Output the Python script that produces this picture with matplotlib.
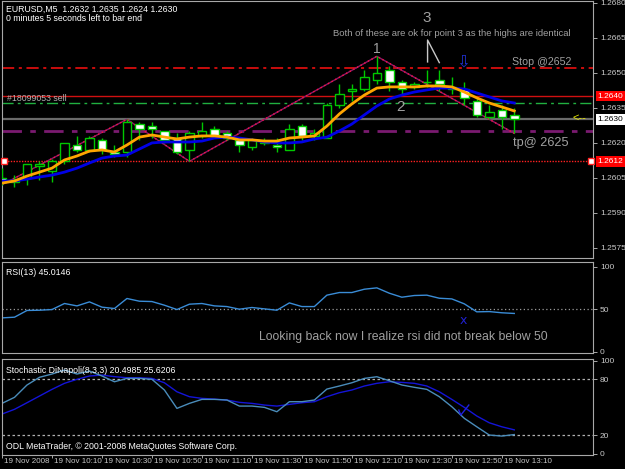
import numpy as np
import matplotlib
matplotlib.use("Agg")
import matplotlib.pyplot as plt
import matplotlib.transforms as mtransforms

plt.rcParams['font.family'] = ['Liberation Sans', 'DejaVu Sans']
NARROW = ['Liberation Sans Narrow', 'Liberation Sans', 'DejaVu Sans']

# ---- EURUSD M5 bars ----
opens = [1.2605, 1.2603, 1.2605, 1.2610, 1.2608, 1.2612, 1.2619, 1.2617, 1.2621, 1.2616,
         1.2616, 1.2628, 1.2627, 1.2625, 1.2622, 1.2617, 1.2623, 1.2626, 1.2624, 1.2621,
         1.2618, 1.2620, 1.2619, 1.2617, 1.2627, 1.2623, 1.2622, 1.2636, 1.2642, 1.2643,
         1.2647, 1.2651, 1.2646, 1.2644, 1.2646, 1.2647, 1.2644, 1.2643, 1.2638, 1.2631,
         1.2634, 1.2632]
highs = [1.2609, 1.2606, 1.2611, 1.2612, 1.2613, 1.2620, 1.2623, 1.2623, 1.2622, 1.2619,
         1.2630, 1.2629, 1.2629, 1.2625, 1.2624, 1.2625, 1.2629, 1.2627, 1.2625, 1.2622,
         1.2622, 1.2622, 1.2622, 1.2628, 1.2628, 1.2626, 1.2637, 1.2645, 1.2645, 1.2651,
         1.2657, 1.2653, 1.2647, 1.2646, 1.2651, 1.2651, 1.2648, 1.2646, 1.2639, 1.2636,
         1.2636, 1.2635]
lows = [1.2602, 1.2601, 1.2602, 1.2604, 1.2603, 1.2611, 1.2616, 1.2616, 1.2615, 1.2614,
        1.2614, 1.2621, 1.2622, 1.2620, 1.2615, 1.2612, 1.2622, 1.2622, 1.2621, 1.2616,
        1.2617, 1.2619, 1.2616, 1.2617, 1.2621, 1.2621, 1.2622, 1.2635, 1.2638, 1.2642,
        1.2645, 1.2642, 1.2641, 1.2643, 1.2644, 1.2642, 1.2641, 1.2636, 1.2631, 1.2630,
        1.2626, 1.2624]
closes = [1.2603, 1.2604, 1.2611, 1.2611, 1.2612, 1.2620, 1.2617, 1.2622, 1.2617, 1.2615,
          1.2629, 1.2626, 1.2626, 1.2621, 1.2616, 1.2624, 1.2625, 1.2623, 1.2622, 1.2619,
          1.2621, 1.2620, 1.2618, 1.2626, 1.2623, 1.2624, 1.2636, 1.2641, 1.2643, 1.2648,
          1.2650, 1.2646, 1.2643, 1.2645, 1.2646, 1.2645, 1.2643, 1.2639, 1.2632, 1.2633,
          1.2631, 1.2630]

# moving averages as drawn (orange = fast, blue = slow)
ma_fast = [1.26027, 1.26036, 1.26057, 1.26074, 1.26091, 1.26126, 1.26143, 1.26164, 1.26169, 1.26160,
           1.26190, 1.26224, 1.26233, 1.26224, 1.26216, 1.26224, 1.26229, 1.26229, 1.26224, 1.26212,
           1.26212, 1.26207, 1.26207, 1.26220, 1.26224, 1.26229, 1.26271, 1.26323, 1.26366, 1.26404,
           1.26434, 1.26439, 1.26439, 1.26439, 1.26443, 1.26443, 1.26439, 1.26417, 1.26392, 1.26370,
           1.26353, 1.26336]
ma_slow = [1.26036, 1.26036, 1.26044, 1.26053, 1.26061, 1.26074, 1.26091, 1.26113, 1.26134, 1.26143,
           1.26147, 1.26173, 1.26199, 1.26203, 1.26203, 1.26203, 1.26207, 1.26220, 1.26224, 1.26220,
           1.26212, 1.26203, 1.26199, 1.26199, 1.26203, 1.26216, 1.26224, 1.26250, 1.26280, 1.26319,
           1.26357, 1.26387, 1.26404, 1.26417, 1.26426, 1.26434, 1.26434, 1.26430, 1.26413, 1.26396,
           1.26379, 1.26370]

# zigzag swing points (bar index, price)
zz_bar = [0, 10, 15, 30, 41]
zz_price = [1.2602, 1.2630, 1.2612, 1.2657, 1.2624]

# RSI(13)
rsi = [39.8, 40.6, 48.5, 48.8, 49.6, 56.7, 53.9, 58.6, 52.4, 50.8,
       62.6, 59.4, 59.0, 54.7, 49.6, 55.9, 56.7, 53.9, 53.1, 50.0,
       52.0, 50.4, 48.8, 57.4, 53.1, 53.1, 66.5, 69.6, 69.6, 73.5,
       75.1, 68.8, 64.1, 66.1, 66.5, 62.9, 62.1, 56.3, 46.9, 47.2,
       45.8, 45.0]

# Stochastic DiNapoli(8,3,3)
stoch_main = [54.1, 60.6, 73.9, 82.2, 85.7, 90.0, 85.7, 88.9, 83.6, 77.4,
              81.0, 81.0, 80.0, 68.5, 48.7, 54.1, 58.4, 58.4, 57.7, 51.2,
              51.2, 49.8, 45.1, 55.9, 55.9, 57.7, 69.5, 72.8, 76.3, 81.0,
              82.8, 78.5, 73.9, 71.4, 69.2, 61.3, 50.5, 38.0, 28.9, 20.0,
              18.9, 20.5]
stoch_signal = [42.6, 47.7, 54.8, 62.0, 69.2, 75.7, 80.0, 83.6, 84.6, 82.9,
                81.7, 81.7, 81.0, 76.3, 66.6, 61.3, 59.5, 58.7, 57.7, 55.2,
                54.1, 52.3, 51.2, 53.0, 54.8, 55.9, 61.3, 65.6, 68.5, 72.8,
                75.7, 77.4, 76.7, 75.7, 72.8, 66.6, 58.4, 49.8, 40.5, 33.2,
                28.9, 25.6]

# time axis
tick_bars = [0, 4, 8, 12, 16, 20, 24, 28, 32, 36, 40]
tick_labels = ['19 Nov 2008', '19 Nov 10:10', '19 Nov 10:30', '19 Nov 10:50', '19 Nov 11:10',
               '19 Nov 11:30', '19 Nov 11:50', '19 Nov 12:10', '19 Nov 12:30', '19 Nov 12:50',
               '19 Nov 13:10']
price_ticks = [1.2575, 1.2590, 1.2605, 1.2620, 1.2635, 1.2650, 1.2665, 1.2680]

# levels on the chart
stop_level = 1.2652
order_line = 1.2640
open_level = 1.2637
bid_level = 1.2630
tp_level = 1.2625
alert_level = 1.2612

# hand drawn marks
arrow3_x = [34.06, 34.06, 35.0]
arrow3_y = [1.26546, 1.26640, 1.26543]
tick_mark_x = [36.56, 36.72, 37.36]
tick_mark_y = [46.9, 41.5, 52.3]

BG = 'black'
FRAME = '#a8a8a8'
TXT = '#c8c8c8'
GREEN = '#00c800'
NOTE = '#a0a0a0'

fig = plt.figure(figsize=(6.25, 4.69), dpi=100, facecolor=BG)
W, H = 625.0, 469.0

# panel rectangle from pixel corners
def rect(x0, y0, x1, y1):
    return [x0 / W, 1 - y1 / H, (x1 - x0) / W, (y1 - y0) / H]

ax = fig.add_axes(rect(2, 1, 593, 258))
ax_rsi = fig.add_axes(rect(2, 262, 593, 353), sharex=ax)
ax_st = fig.add_axes(rect(2, 359, 593, 455), sharex=ax)

for a in (ax, ax_rsi, ax_st):
    a.set_facecolor(BG)
    for s in a.spines.values():
        s.set_color(FRAME)
        s.set_linewidth(0.8)
    a.yaxis.tick_right()
    a.tick_params(axis='y', colors=FRAME, labelcolor=TXT, labelsize=6, length=3, width=0.7, pad=2)
    a.tick_params(axis='x', bottom=False, labelbottom=False)

bars = np.arange(len(opens))
ax.set_xlim(0, 47.3)

# ---- main price panel ----
ax.set_ylim(1.25706, 1.26807)
ax.set_yticks(price_ticks)
ax.set_yticklabels(['%.4f' % p for p in price_ticks], family=NARROW)

ax.axhline(stop_level, color='#ff1010', lw=1.1, ls=(0, (8, 3, 2, 3)))
ax.axhline(order_line, color='#d01010', lw=1.0)
ax.axhline(open_level, color='#20b040', lw=1.0, ls=(0, (8, 3, 2, 3)))
ax.axhline(bid_level, color='#6a6a6a', lw=1.6)
ax.axhline(tp_level, color='#7a1a70', lw=2.0, ls=(0, (7, 3, 2, 3)))
ax.axhline(alert_level, color='#ff2020', lw=1.0, ls=(0, (1, 1)))

# zigzag
ax.plot(zz_bar, zz_price, color='#8a1a6a', lw=1.0, zorder=2)
ax.plot(zz_bar, zz_price, color='#ff1040', lw=1.0, ls=(0, (1, 2)), zorder=2)

# candles (white body = bear, black body = bull)
for i in bars:
    o, h, l, c = opens[i], highs[i], lows[i], closes[i]
    ax.vlines(i, l, h, color=GREEN, lw=1.0, zorder=3)
    bear = c < o
    body = max(abs(c - o), 0.00002)
    ax.bar(i, body, bottom=min(o, c), width=0.68,
           facecolor='white' if bear else 'black', edgecolor=GREEN, lw=1.0, zorder=4)

ax.plot(bars, ma_slow, color='#0000e6', lw=2.0, zorder=5)
ax.plot(bars, ma_fast, color='#ffa500', lw=2.0, zorder=6)

# right-side price boxes
tr = mtransforms.blended_transform_factory(ax.transAxes, ax.transData)
for lvl, txt, fc, tc in [(order_line, '1.2640', '#ff0000', 'white'),
                         (bid_level, '1.2630', 'white', 'black'),
                         (alert_level, '1.2612', '#ff0000', 'white')]:
    ax.text(1.008, lvl, txt, transform=tr, color=tc, fontsize=6, va='center', family=NARROW,
            bbox=dict(facecolor=fc, edgecolor='none', pad=1.4), clip_on=False)
ax.plot([0.004, 0.997], [alert_level, alert_level], transform=tr, ls='none', marker='s', ms=4,
        mfc='white', mec='#ff2020', mew=1.0, clip_on=False, zorder=7)
ax.text(0.966, bid_level + 0.00005, '<--', transform=tr, color='#e8e800', fontsize=8,
        va='center', clip_on=False)

# header
ax.text(0.006, 0.985, 'EURUSD,M5  1.2632 1.2635 1.2624 1.2630', transform=ax.transAxes,
        color='white', fontsize=6.3, va='top', family=NARROW)
ax.text(0.006, 0.95, '0 minutes 5 seconds left to bar end', transform=ax.transAxes,
        color='white', fontsize=6.3, va='top', family=NARROW)
ax.text(0.4, 1.26389, '#18099053 sell', color='#b0b0b0', fontsize=6.3, va='center', family=NARROW)

# annotations
ax.text(34.0, 1.26734, '3', color=NOTE, fontsize=11, ha='center', va='center')
ax.text(36.0, 1.26668, 'Both of these are ok for point 3 as the highs are identical',
        color=NOTE, fontsize=6.8, ha='center', va='center')
ax.plot(arrow3_x, arrow3_y, color='#c8c8c8', lw=1.0)
ax.text(30.0, 1.26602, '1', color=NOTE, fontsize=10, ha='center', va='center')
ax.text(31.9, 1.26353, '2', color=NOTE, fontsize=11, ha='center', va='center')
ax.text(40.8, 1.26544, 'Stop @2652', color=NOTE, fontsize=7.7, va='center')
ax.text(40.9, 1.26197, 'tp@ 2625', color=NOTE, fontsize=9.2, va='center')
ax.text(36.9, 1.26546, '\u21e9', color='#2030d0', fontsize=12, ha='center', va='center',
        family='DejaVu Sans')

# ---- RSI panel ----
ax_rsi.set_ylim(-1.5, 105.5)
ax_rsi.set_yticks([0, 50, 100])
ax_rsi.set_yticklabels(['0', '50', '100'], family=NARROW)
ax_rsi.axhline(50, color='#9a9a9a', lw=0.9, ls=(0, (1, 2)))
ax_rsi.plot(bars, rsi, color='#3a8cd6', lw=1.0)
ax_rsi.text(0.006, 0.93, 'RSI(13) 45.0146', transform=ax_rsi.transAxes, color='white',
            fontsize=6.3, va='top', family=NARROW)
ax_rsi.text(20.56, 16.8, 'Looking back now I realize rsi did not break below 50',
            color=NOTE, fontsize=8.8, va='center')
ax_rsi.text(36.95, 36.6, 'x', color='#2020d0', fontsize=9, ha='center', va='center',
            family='DejaVu Sans')

# ---- Stochastic panel ----
ax_st.set_ylim(-1.5, 101.9)
ax_st.set_yticks([0, 20, 80, 100])
ax_st.set_yticklabels(['0', '20', '80', '100'], family=NARROW)
ax_st.axhline(80, color='#b0b0b0', lw=0.9, ls=(0, (2, 2)))
ax_st.axhline(20, color='#b0b0b0', lw=0.9, ls=(0, (2, 2)))
ax_st.plot(bars, stoch_signal, color='#1414d8', lw=1.0)
ax_st.plot(bars, stoch_main, color='#4a8cba', lw=1.0)
ax_st.plot(tick_mark_x, tick_mark_y, color='#2020e0', lw=1.0)
ax_st.text(0.006, 0.93, 'Stochastic DiNapoli(8,3,3) 20.4985 25.6206', transform=ax_st.transAxes,
           color='white', fontsize=6.3, va='top', family=NARROW)
ax_st.text(0.006, 0.04, 'ODL MetaTrader, \u00a9 2001-2008 MetaQuotes Software Corp.',
           transform=ax_st.transAxes, color='white', fontsize=6.3, va='bottom', family=NARROW)

# time labels, left-aligned just right of each tick
ax_st.tick_params(axis='x', bottom=True, labelbottom=True, colors=FRAME, labelcolor=TXT,
                  labelsize=5.8, length=2, width=0.7, pad=0.5)
ax_st.set_xticks(tick_bars)
ax_st.set_xticklabels(tick_labels, ha='left', family=NARROW)
shift = mtransforms.ScaledTranslation(2 / 100, 0, fig.dpi_scale_trans)
for lab in ax_st.xaxis.get_majorticklabels():
    lab.set_transform(lab.get_transform() + shift)

fig.savefig('out.png', dpi=100, facecolor=BG)
